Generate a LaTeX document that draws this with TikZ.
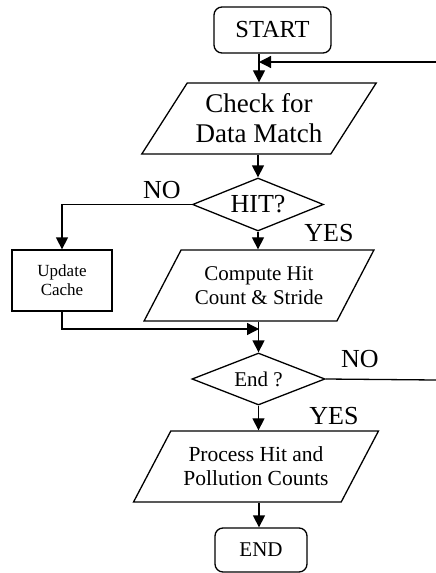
\documentclass[tikz,border=0pt]{standalone}
\usepackage{fontspec}
\setmainfont{Liberation Serif}
\usetikzlibrary{shapes.geometric,arrows.meta}

\newcommand{\fsz}[1]{\fontsize{#1}{1.12\dimexpr#1pt\relax}\selectfont}

\tikzset{
	every path/.style={line width=1.3pt},
	flow/.style={-{Triangle[length=12pt,width=12pt]}},
	term/.style={draw, rounded corners=8pt, align=center},
	io/.style={draw, trapezium, trapezium left angle=51, trapezium right angle=129,
		trapezium stretches=true, minimum height=71pt, inner sep=0pt, align=center},
	decide/.style={draw, diamond, inner sep=0pt, align=center},
	box/.style={draw, minimum width=100pt, minimum height=61pt, inner sep=0pt, align=center},
	tag/.style={inner sep=0pt, font=\fsz{26}}
}

\begin{document}
\begin{tikzpicture}[x=1pt,y=-1pt]
	\useasboundingbox (0,0) rectangle (436,573);

	%blocks
	\node[term, minimum width=117pt, minimum height=46pt, font=\fsz{24.5}] (start) at (272.5,30) {START};
	\node[io, minimum width=235pt, font=\fsz{27}] (check) at (259,118.5) {Check for\\Data Match};
	\node[decide, aspect=2.5, minimum width=131pt, minimum height=53pt, font=\fsz{26}] (hit) at (258,204.5) {HIT?};
	\node[box, font=\fsz{17}] (update) at (62,280.5) {Update\\Cache};
	\node[io, minimum width=230pt, font=\fsz{21}] (compute) at (259,285.5) {Compute Hit\\Count \& Stride};
	\node[decide, aspect=2.55, minimum width=133pt, minimum height=52pt, font=\fsz{21}] (endtest) at (258.5,379) {End ?};
	\node[io, minimum width=245pt, font=\fsz{21.5}] (process) at (256,466.5) {Process Hit and\\Pollution Counts};
	\node[term, minimum width=92pt, minimum height=44pt, font=\fsz{21}] (stop) at (261,550) {END};

	%loop ends at the page edge
	\coordinate (loopin) at (436,62);
	\coordinate (loopout) at (436,380);
	\coordinate (join) at (259,329);

	%flow lines
	\draw[flow] (check.north |- start.south) -- (check.north);
	\draw[flow] (loopin) -- (check.north |- loopin);
	\draw[flow] (check.south -| hit.north) -- (hit.north);
	\draw[flow] (hit.west) -| (update.north);
	\draw[flow] (hit.south) -- (hit.south |- compute.north);
	\draw[flow] (update.south) |- (join);
	\draw[flow] (compute.south -| endtest.north) -- (endtest.north);
	\draw (endtest.east) -- (loopout);
	\draw[flow] (endtest.south) -- (endtest.south |- process.north);
	\draw[flow] (process.south -| join) -- (stop.north -| join);

	%branch labels
	\node[tag] (hitno) at (162,190) {NO};
	\node[tag] (hityes) at (329,233) {YES};
	\node[tag] (endno) at (360,359) {NO};
	\node[tag] (endyes) at (334,416) {YES};
\end{tikzpicture}
\end{document}
